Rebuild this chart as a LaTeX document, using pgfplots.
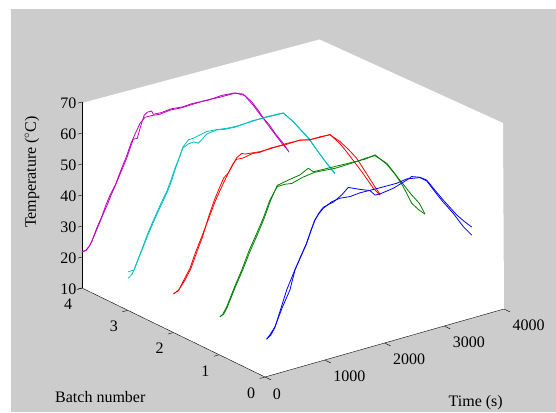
\documentclass[border=0pt]{standalone}
\usepackage{fontspec}
\setmainfont{Liberation Serif}
\usepackage{pgfplots}
\pgfplotsset{compat=1.18}
\definecolor{mybg}{gray}{0.8}
\definecolor{mym}{rgb}{0.75,0,0.75}
\definecolor{myc}{rgb}{0,0.75,0.75}
\definecolor{myg}{rgb}{0,0.5,0}
\pgfplotsset{tr/.style={line width=0.8pt,no marks,line join=round}}
\begin{document}
\begin{tikzpicture}
\useasboundingbox (0pt,0pt) rectangle (556pt,412pt);
\fill[mybg] (11pt,0pt) rectangle (556pt,403pt);
\fill[white] (82pt,309pt)--(319.5pt,372.5pt)--(503pt,289pt)--(504pt,103pt)--(265pt,35pt)--(82pt,124pt)--cycle;
\begin{axis}[
  at={(265pt,35pt)},anchor=origin,
  x={(0.05975pt,0.017pt)},y={(-45.75pt,22.25pt)},z={(0pt,3.1pt)},
  xmin=0,xmax=4000,ymin=0,ymax=4,zmin=10,zmax=70,
  xtick={1000,2000,3000,4000},ytick={0,1,2,3,4},ztick={10,20,30,40,50,60,70},
  extra x ticks={0},
  extra x tick style={xticklabel style={xshift=-11pt,yshift=-4.5pt}},
  clip=false,
  axis line style={draw=none},
  grid=none,
  major tick length=0pt,
  xtick pos=left,ytick pos=left,ztick pos=left,
  tick label style={font=\fontsize{16}{16}\selectfont,/pgf/number format/assume math mode=true},
  xticklabel style={xshift=17pt,yshift=-3.5pt},
  yticklabel style={xshift=-7pt,yshift=-7pt},
  zticklabel style={xshift=-2pt,yshift=-2pt},
  /pgf/number format/1000 sep={},
  label style={font=\fontsize{16}{16}\selectfont},
  xlabel={Time (s)},ylabel={Batch number},zlabel={Temperature ($^\circ$C)},
  xlabel style={at={(axis cs:3526,0,-17.6)},anchor=center,rotate=0,sloped=false},
  ylabel style={at={(axis cs:0,3.6,-22.3)},anchor=center,rotate=0,sloped=false},
  zlabel style={at={(axis cs:0,5.09,39.6)},anchor=center,rotate=0,sloped=false},
]
\draw[black,thin] (axis cs:0,0,10)--(axis cs:4000,0,10);
\draw[black,thin] (axis cs:0,0,10)--(axis cs:0,4,10);
\draw[black,thin] (axis cs:0,4,10)--(axis cs:0,4,70);
\foreach \t in {0,1000,2000,3000,4000}{\edef\tmp{\noexpand\draw[black,thin] (axis cs:\t,0,10)--(axis cs:\t,-0.13,10);}\tmp}
\foreach \t in {0,1,2,3,4}{\edef\tmp{\noexpand\draw[black,thin] (axis cs:0,\t,10)--(axis cs:-90,\t,10);}\tmp}
\foreach \t in {10,20,30,40,50,60,70}{\edef\tmp{\noexpand\draw[black,thin] (axis cs:0,4,\t)--(axis cs:-70,4,\t);}\tmp}
% magenta
\addplot3[tr,mym] coordinates {(0,4,21.7)(67,4,21.7)(115,4,22.6)(162,4,24)(245,4,27.9)(330,4,31.2)(400,4,34.6)(469,4,37.4)(560,4,40.3)(664,4,45)(740,4,48.2)(820,4,52.2)(900,4,55.2)(971,4,57.8)(1054,4,59.3)(1180,4,59.2)(1305,4,58.9)(1480,4,59.3)(1660,4,59)(1858,4,59.1)(2050,4,59.2)(2300,4,58.9)(2561,4,58.8)(2694,4,57.8)(2770,4,56.1)(2840,4,54.5)(2960,4,50.8)(3091,4,46.2)(3230,4,41.9)(3369,4,37.6)(3453,4,35.4)};
\addplot3[tr,mym] coordinates {(0,4,21.6)(70,4,21.9)(120,4,22.8)(165,4,24.2)(260,4,28)(345,4,31.5)(420,4,34.4)(490,4,37.4)(580,4,40.9)(680,4,45)(745,4,47.6)(800,4,50.4)(859,4,53.3)(925,4,53.2)(985,4,57)(1040,4,60)(1093,4,60.7)(1166,4,60.7)(1193,4,59.5)(1320,4,59.3)(1500,4,59.6)(1680,4,59.2)(1858,4,59.4)(2100,4,59)(2340,4,59.3)(2561,4,58.9)(2720,4,57.2)(2880,4,52.8)(3000,4,49)(3130,4,45.6)(3250,4,41.6)(3369,4,38.2)(3465,4,34.8)};
% cyan
\addplot3[tr,myc] coordinates {(10,3,22.4)(105,3,22.4)(170,3,25.4)(233,3,28.2)(345,3,33.4)(456,3,37.7)(560,3,41.6)(652,3,44.7)(720,3,47.9)(791,3,51.5)(860,3,54.4)(919,3,57.2)(1014,3,58.1)(1110,3,58.2)(1181,3,57.4)(1250,3,58.4)(1321,3,59.6)(1488,3,60)(1640,3,59.4)(1823,3,59.2)(2080,3,59.7)(2325,3,59.5)(2604,3,59.3)(2771,3,55.6)(2900,3,52.1)(3022,3,48.9)(3162,3,44.4)(3320,3,39.5)(3469,3,35.2)};
\addplot3[tr,myc] coordinates {(10,3,20.3)(70,3,21.2)(120,3,23)(180,3,25.7)(245,3,28.4)(360,3,33.3)(470,3,37.6)(570,3,41.2)(670,3,44.9)(740,3,48)(805,3,51.7)(870,3,54.8)(925,3,57.6)(1014,3,59.4)(1100,3,59.5)(1180,3,59.8)(1321,3,60.4)(1488,3,60.1)(1660,3,59.6)(1823,3,59.4)(2080,3,59.5)(2325,3,59.7)(2604,3,59.4)(2780,3,55.4)(3040,3,48.6)(3170,3,44.2)(3300,3,40)(3465,3,35)};
% red
\addplot3[tr,red] coordinates {(0,2,22.6)(80,2,23)(170,2,25.9)(276,2,29.2)(370,2,33.9)(472,2,38.3)(580,2,43.1)(695,2,48.4)(780,2,51.6)(862,2,54.5)(930,2,56.9)(1001,2,59.1)(1058,2,60.1)(1141,2,59.9)(1197,2,60)(1320,2,60.5)(1448,2,60.2)(1640,2,60.6)(1880,2,60.3)(2117,2,60.5)(2285,2,59.6)(2450,2,59.7)(2619,2,59.4)(2787,2,56.3)(2920,2,53.2)(3066,2,49.4)(3220,2,43.9)(3372,2,38.5)(3456,2,35.7)};
\addplot3[tr,red] coordinates {(0,2,22.4)(85,2,23.2)(190,2,25.8)(290,2,29)(390,2,33.8)(485,2,38.1)(580,2,43.7)(680,2,48.8)(760,2,52.1)(840,2,55.2)(920,2,56.5)(985,2,58.4)(1058,2,60.6)(1141,2,61.5)(1197,2,61)(1320,2,60.7)(1448,2,60.4)(1640,2,60.4)(1880,2,60.6)(2117,2,60.4)(2285,2,59.7)(2450,2,59.5)(2619,2,59.5)(2787,2,55.6)(2880,2,52.9)(2982,2,49.8)(3160,2,44.3)(3344,2,38.2)(3456,2,35.4)};
% green
\addplot3[tr,myg] coordinates {(12,1,22.1)(60,1,22.8)(125,1,24.8)(250,1,30.2)(376,1,35.3)(500,1,40.9)(627,1,45.7)(740,1,50.2)(849,1,55.3)(971,1,58.9)(1090,1,59)(1212,1,58.6)(1400,1,59.6)(1600,1,60.1)(1950,1,59.5)(2300,1,59.7)(2450,1,60)(2607,1,59.9)(2802,1,56.4)(2940,1,52.3)(3080,1,47.3)(3221,1,41.2)(3350,1,38.2)(3443,1,36.5)};
\addplot3[tr,myg] coordinates {(12,1,22.3)(70,1,22.6)(130,1,24.4)(260,1,30)(390,1,35.1)(515,1,40.5)(640,1,45.3)(750,1,49.8)(860,1,55.1)(971,1,59.3)(1184,1,60.1)(1350,1,60.6)(1490,1,62)(1573,1,60.4)(1940,1,60.1)(2300,1,59.8)(2450,1,59.7)(2607,1,60.2)(2802,1,56.1)(3080,1,48.1)(3210,1,44.2)(3348,1,40.5)(3443,1,36.5)};
% blue
\addplot3[tr,blue] coordinates {(28,0,22)(90,0,23.3)(167,0,25.3)(290,0,30.9)(418,0,35.8)(502,0,41.8)(600,0,45.6)(698,0,49.3)(770,0,53)(837,0,56.1)(900,0,57.9)(976,0,59.4)(1150,0,60.2)(1284,0,61.7)(1394,0,63.5)(1590,0,61.8)(1757,0,60.5)(1841,0,58.6)(1925,0,58.5)(2147,0,59.1)(2371,0,60.5)(2455,0,61.2)(2594,0,60.2)(2706,0,58.7)(2850,0,54.5)(2984,0,50.7)(3100,0,47.6)(3208,0,44.7)(3330,0,42)(3459,0,39.4)};
\addplot3[tr,blue] coordinates {(28,0,22.2)(95,0,22.9)(167,0,25.1)(265,0,30.6)(363,0,36.1)(490,0,41.4)(590,0,45.3)(690,0,49.1)(760,0,52.6)(830,0,55.9)(900,0,57.7)(976,0,59.1)(1116,0,60.4)(1255,0,60.8)(1420,0,60.4)(1590,0,60.7)(1900,0,60.5)(2204,0,60.4)(2371,0,60.9)(2594,0,60.1)(2706,0,58.4)(2840,0,54.3)(2970,0,50.4)(3060,0,48)(3151,0,45.5)(3319,0,40.3)(3459,0,36.8)};
\end{axis}
\end{tikzpicture}
\end{document}
